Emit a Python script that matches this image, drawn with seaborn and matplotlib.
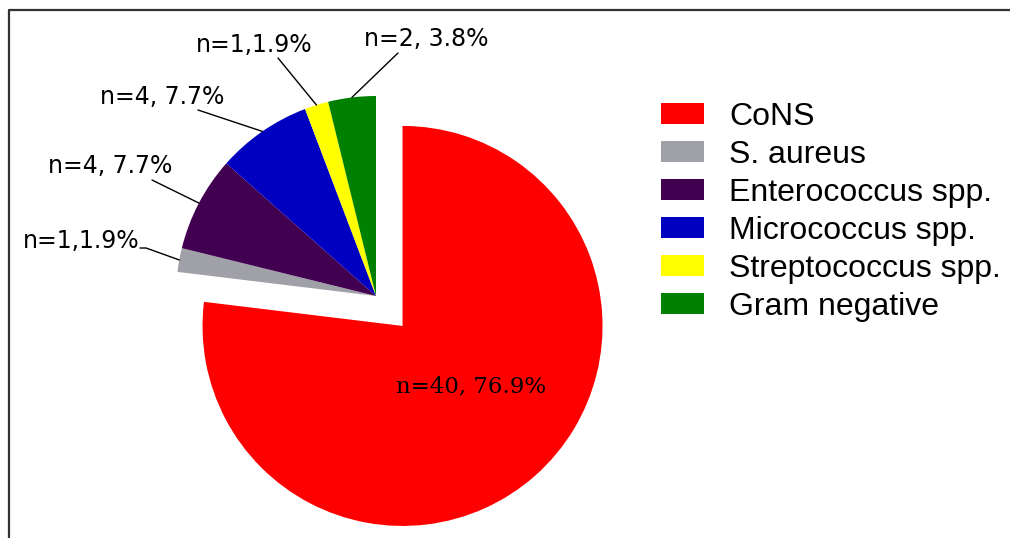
import numpy as np
import matplotlib
matplotlib.use("Agg")
import matplotlib.pyplot as plt
from matplotlib.lines import Line2D
import seaborn as sns

# ---- data ----
categories = ["CoNS", "S. aureus", "Enterococcus spp.", "Micrococcus spp.",
              "Streptococcus spp.", "Gram negative"]
counts = [40, 1, 4, 4, 1, 2]
percents = [76.9, 1.9, 7.7, 7.7, 1.9, 3.8]
slice_labels = ["n=40, 76.9%", "n=1,1.9%", "n=4, 7.7%", "n=4, 7.7%",
                "n=1,1.9%", "n=2, 3.8%"]
colors = ["#FF0000", "#A0A0A8", "#420050", "#0000C0", "#FFFF00", "#008000"]

sns.set_theme(style="white")
plt.rcParams["font.family"] = ["Liberation Sans", "DejaVu Sans"]
plt.rcParams["text.color"] = "black"

W, H = 1010, 538
fig = plt.figure(figsize=(W / 100, H / 100), dpi=100)
fig.patch.set_facecolor("white")
ax = fig.add_axes([0, 0, 1, 1])

def Y(y_img):
    return H - y_img

center = (376, Y(296))
R = 200
explode = [40, 0, 0, 0, 0, 0]   # offset of the CoNS wedge (data units)

wedges, _ = ax.pie(counts, colors=sns.color_palette(colors), startangle=90,
                   counterclock=False, radius=R, center=center,
                   explode=explode, wedgeprops=dict(linewidth=0))
ax.set_xlim(0, W)
ax.set_ylim(0, H)
ax.set_aspect("equal", adjustable="box")
ax.axis("off")

# inner label for CoNS
ax.text(471, Y(386), slice_labels[0], ha="center", va="center",
        fontsize=16.5, family="DejaVu Serif", color="black")

# outside labels with leader lines (layout positions)
text_pos = {1: (81, 241), 2: (110, 166), 3: (162, 97), 4: (254, 45), 5: (426, 39)}
line_start = {1: [(140, 248), (146, 248)], 2: [(152, 180)], 3: [(198, 110)],
              4: [(278, 58)], 5: [(398, 53)]}
for i in range(1, len(counts)):
    w = wedges[i]
    mid = np.deg2rad((w.theta1 + w.theta2) / 2)
    cx, cy = w.center
    ex, ey = cx + R * np.cos(mid), cy + R * np.sin(mid)
    pts = [(x, Y(y)) for x, y in line_start[i]] + [(ex, ey)]
    xs, ys = zip(*pts)
    ax.plot(xs, ys, color="black", lw=1.0)
    tx, ty = text_pos[i]
    ax.text(tx, Y(ty), slice_labels[i], ha="center", va="center",
            fontsize=17, family="DejaVu Sans", color="black")

# legend
leg = ax.legend(wedges, categories, loc="upper left",
                bbox_to_anchor=(661 / W, Y(102) / H), bbox_transform=fig.transFigure,
                frameon=False, fontsize=23, handlelength=1.34, handleheight=0.63,
                handletextpad=0.8, labelspacing=0.25, borderpad=0, borderaxespad=0)
for t in leg.get_texts():
    t.set_family("Liberation Sans")
    t.set_color("black")

# frame lines (top and left)
fig.add_artist(Line2D([9 / W, 9 / W, 1.0], [0, 1 - 10 / H, 1 - 10 / H],
                      transform=fig.transFigure, color="#333333", lw=1.6))

fig.savefig("out.png", dpi=100)
